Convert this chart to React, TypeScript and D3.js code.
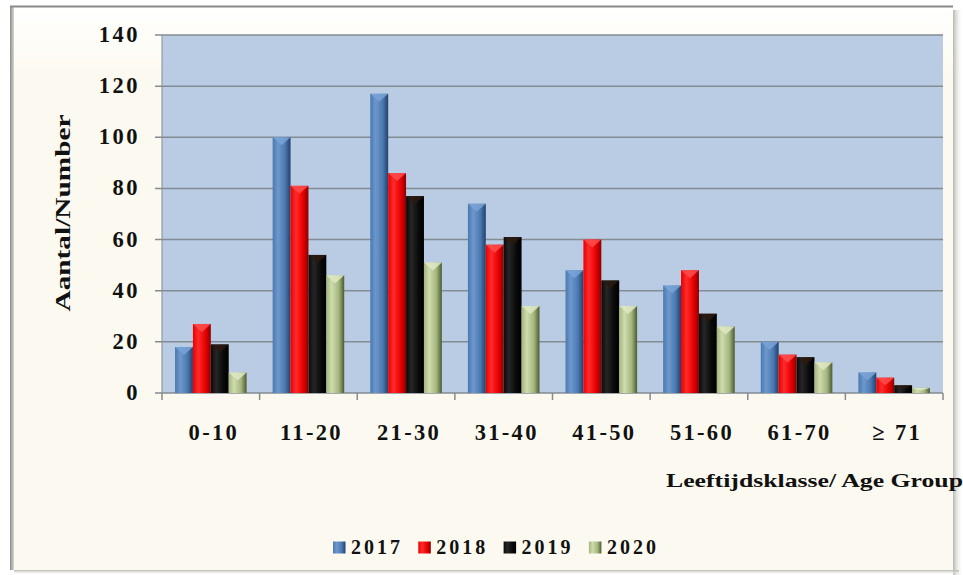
import React from "react";
import * as d3 from "d3";

const categories = ["0-10", "11-20", "21-30", "31-40", "41-50", "51-60", "61-70", "≥ 71"];
const seriesNames = ["2017", "2018", "2019", "2020"];
const v2017 = [18, 100, 117, 74, 48, 42, 20, 8];
const v2018 = [27, 81, 86, 58, 60, 48, 15, 6];
const v2019 = [19, 54, 77, 61, 44, 31, 14, 3];
const v2020 = [8, 46, 51, 34, 34, 26, 12, 2];
const yTicks = [0, 20, 40, 60, 80, 100, 120, 140];

const seriesValues = [v2017, v2018, v2019, v2020];
const palettes = [
  { id: "g17", dark: "#22406b", mid: "#4a78b0", light: "#6d98cc", top: "#7aa3d6" },
  { id: "g18", dark: "#8a0000", mid: "#e80000", light: "#ff2a2a", top: "#ff4d4d" },
  { id: "g19", dark: "#000000", mid: "#0a0a0a", light: "#262626", top: "#2a1a10" },
  { id: "g20", dark: "#4c5a30", mid: "#a3b57d", light: "#cfdcad", top: "#dfe8c4" },
];

const W = 963;
const H = 575;
const plotL = 162;
const plotR = 943;
const plotT = 35;
const plotB = 393;
const FONT = "'Liberation Serif', 'DejaVu Serif', serif";

export default function App() {
  const x = d3.scaleBand<string>().domain(categories).range([plotL, plotR]).paddingInner(0.267).paddingOuter(0.1335);
  const xs = d3.scaleBand<string>().domain(seriesNames).range([0, x.bandwidth()]).padding(0);
  const y = d3.scaleLinear().domain([0, 140]).range([plotB, plotT]);
  const step = x.step();
  const boundaries = d3.range(categories.length + 1).map((i) => plotL + i * step);

  return (
    <div style={{ position: "absolute", left: 0, top: 0 }}>
      <svg width={W} height={H} style={{ display: "block" }}>
        <defs>
          {palettes.map((p) => (
            <linearGradient key={p.id} id={p.id} x1="0" x2="1" y1="0" y2="0">
              <stop offset="0%" stopColor={p.mid} />
              <stop offset="30%" stopColor={p.light} />
              <stop offset="70%" stopColor={p.mid} />
              <stop offset="100%" stopColor={p.dark} />
            </linearGradient>
          ))}
          <linearGradient id="frameShadowR" x1="0" x2="1">
            <stop offset="0%" stopColor="#b8b8b0" />
            <stop offset="100%" stopColor="#ffffff" stopOpacity="0" />
          </linearGradient>
          <linearGradient id="frameShadowB" x1="0" x2="0" y1="0" y2="1">
            <stop offset="0%" stopColor="#b8b8b0" />
            <stop offset="100%" stopColor="#ffffff" stopOpacity="0" />
          </linearGradient>
          <linearGradient id="frameShadowL" x1="0" x2="1">
            <stop offset="0%" stopColor="#8c8c8c" />
            <stop offset="100%" stopColor="#d8d8d0" />
          </linearGradient>
          <linearGradient id="frameFill" x1="0" x2="0" y1="0" y2="1">
            <stop offset="0%" stopColor="#ffffff" />
            <stop offset="12%" stopColor="#fcfaf0" />
            <stop offset="100%" stopColor="#fcfaf0" />
          </linearGradient>
        </defs>
        <rect x={0} y={0} width={W} height={H} fill="#ffffff" />
        {/* frame */}
        <rect x={953} y={10} width={10} height={565} fill="url(#frameShadowR)" />
        <rect x={14} y={570} width={945} height={5} fill="url(#frameShadowB)" />
        <rect x={11} y={6} width={942} height={564} fill="url(#frameFill)" />
        <rect x={10} y={6} width={4} height={564} fill="url(#frameShadowL)" />
        <line x1={10} x2={953} y1={6.5} y2={6.5} stroke="#8a8a8a" strokeWidth={2} />

        {/* plot area */}
        <rect x={plotL} y={plotT} width={plotR - plotL} height={plotB - plotT} fill="#b9cce4" />
        {yTicks.map((t) => (
          <g key={t}>
            <line x1={plotL - 7} x2={plotR} y1={y(t)} y2={y(t)} stroke="#858b93" strokeWidth={1.5} />
            <text x={140} y={y(t) + 7} textAnchor="end" fontFamily={FONT} fontWeight="bold" fontSize={22.5} letterSpacing={2.5} fill="#111">
              {t}
            </text>
          </g>
        ))}
        <line x1={plotL} x2={plotL} y1={plotT} y2={plotB} stroke="#858b93" strokeWidth={1} />
        {boundaries.map((bx, i) => (
          <line key={i} x1={bx} x2={bx} y1={plotB} y2={plotB + 7} stroke="#858b93" strokeWidth={1.5} />
        ))}

        {/* bars */}
        {categories.map((c, ci) => (
          <g key={c}>
            {seriesNames.map((s, si) => {
              const v = seriesValues[si][ci];
              const bx = (x(c) as number) + (xs(s) as number);
              const bw = xs.bandwidth();
              const by = y(v);
              const bh = plotB - by;
              const p = palettes[si];
              const tri = Math.min(8, bh / 2);
              return (
                <g key={s}>
                  <rect x={bx} y={by} width={bw} height={bh} fill={`url(#${p.id})`} />
                  <path d={`M${bx},${by}L${bx + bw},${by}L${bx + bw / 2},${by + tri}Z`} fill={p.top} opacity={0.85} />
                </g>
              );
            })}
          </g>
        ))}

        {/* x labels */}
        {categories.map((c) => (
          <text key={c} x={(x(c) as number) + x.bandwidth() / 2 + 3} y={440} textAnchor="middle" fontFamily={FONT} fontWeight="bold" fontSize={22.5} letterSpacing={2.3} fill="#111">
            {c}
          </text>
        ))}

        {/* axis titles */}
        <text x={666} y={487} fontFamily={FONT} fontWeight="bold" fontSize={19} textLength={297} lengthAdjust="spacingAndGlyphs" fill="#111">
          Leeftijdsklasse/ Age Group
        </text>
        <text transform="translate(70,213) rotate(-90)" textAnchor="middle" fontFamily={FONT} fontWeight="bold" fontSize={22} textLength={197} lengthAdjust="spacingAndGlyphs" fill="#111">
          Aantal/Number
        </text>

        {/* legend */}
        {seriesNames.map((s, i) => {
          const lx = 333 + i * 85.3;
          const p = palettes[i];
          return (
            <g key={s}>
              <rect x={lx} y={541.5} width={12.5} height={12} fill={`url(#${p.id})`} />
              <text x={lx + 18} y={554} fontFamily={FONT} fontWeight="bold" fontSize={20} letterSpacing={3} fill="#111">
                {s}
              </text>
            </g>
          );
        })}
      </svg>
    </div>
  );
}
